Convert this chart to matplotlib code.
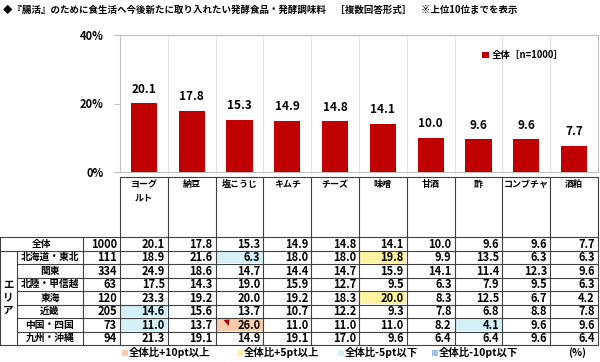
import matplotlib.pyplot as plt
from matplotlib.patches import Rectangle, Polygon

plt.rcParams['font.family'] = ['Noto Sans CJK JP', 'DejaVu Sans']

# data
title = '◆『腸活』のために食生活へ今後新たに取り入れたい発酵食品・発酵調味料　［複数回答形式］　※上位10位までを表示'
categories = ['ヨーグ\nルト', '納豆', '塩こうじ', 'キムチ', 'チーズ', '味噌', '甘酒', '酢', 'コンブチャ', '酒粕']
total = [20.1, 17.8, 15.3, 14.9, 14.8, 14.1, 10.0, 9.6, 9.6, 7.7]
total_n = 1000
regions = ['北海道・東北', '関東', '北陸・甲信越', '東海', '近畿', '中国・四国', '九州・沖縄']
region_n = [111, 334, 63, 120, 205, 73, 94]
region_vals = [
    [18.9, 21.6, 6.3, 18.0, 18.0, 19.8, 9.9, 13.5, 6.3, 6.3],
    [24.9, 18.6, 14.7, 14.4, 14.7, 15.9, 14.1, 11.4, 12.3, 9.6],
    [17.5, 14.3, 19.0, 15.9, 12.7, 9.5, 6.3, 7.9, 9.5, 6.3],
    [23.3, 19.2, 20.0, 19.2, 18.3, 20.0, 8.3, 12.5, 6.7, 4.2],
    [14.6, 15.6, 13.7, 10.7, 12.2, 9.3, 7.8, 6.8, 8.8, 7.8],
    [11.0, 13.7, 26.0, 11.0, 11.0, 11.0, 8.2, 4.1, 9.6, 9.6],
    [21.3, 19.1, 14.9, 19.1, 17.0, 9.6, 6.4, 6.4, 9.6, 6.4],
]
legend_labels = ['全体比+10pt以上', '全体比+5pt以上', '全体比-5pt以下', '全体比-10pt以下']
legend_colors = ['#F8CBAD', '#FFF5A0', '#D5F1F8', '#9DC3E6']

W, H = 600, 362
fig = plt.figure(figsize=(6, 3.62), dpi=100)

# pixel-coordinate overlay for the table and texts
tab = fig.add_axes([0, 0, 1, 1])
tab.set_xlim(0, W)
tab.set_ylim(H, 0)
tab.axis('off')

# chart area (pixels)
L, R, T, B = 120, 598, 35, 172
ax = fig.add_axes([L / W, 1 - B / H, (R - L) / W, (B - T) / H])
x = range(len(total))
ax.bar(x, total, width=0.55, color='#C00000', label='全体［n=1000］', zorder=3)
for i, v in enumerate(total):
    ax.text(i, v + 2.2, f'{v:.1f}', ha='center', va='bottom', fontsize=8.5, fontweight='bold')
ax.set_xlim(-0.5, len(total) - 0.5)
ax.set_ylim(0, 40)
ax.set_yticks([0, 20, 40])
ax.set_yticklabels(['0%', '20%', '40%'], fontsize=8, fontweight='bold')
ax.tick_params(axis='y', length=4, color='#BFBFBF', pad=8)
ax.set_xticks([])
for i in range(1, len(total)):
    ax.axvline(i - 0.5, color='#E3E3E3', lw=0.8, zorder=1)
for s in ax.spines.values():
    s.set_color('#BFBFBF')
    s.set_linewidth(0.8)
ax.legend(loc='upper right', bbox_to_anchor=(0.945, 0.95), frameon=False,
          handlelength=0.7, handleheight=0.7, handletextpad=0.3,
          prop={'weight': 'bold', 'size': 6.8})

fig.text(3 / W, 1 - 10 / H, title, fontsize=6.8, fontweight='bold', va='center', ha='left')

# table geometry
cw = (R - L) / len(categories)
col_x = [L + i * cw for i in range(len(categories) + 1)]
head_top = 177
row_top = 237
rh = 13.5
n_rows = 1 + len(regions)
bottom = row_top + n_rows * rh
lc = '#404040'

# header cells
tab.plot([L, R], [head_top, head_top], color=lc, lw=0.8)
for cx in col_x:
    tab.plot([cx, cx], [head_top, bottom], color=lc, lw=0.8)
for i, c in enumerate(categories):
    tab.text(col_x[i] + cw / 2, head_top + 3, c, ha='center', va='top', fontsize=6.5,
             fontweight='bold', linespacing=1.6)

# row lines
for r in range(n_rows + 1):
    y = row_top + r * rh
    x0 = 0 if r in (0, 1, n_rows) else 17
    tab.plot([x0, R], [y, y], color=lc, lw=0.8)
tab.plot([0, 0], [row_top, bottom], color=lc, lw=0.8)
tab.plot([17, 17], [row_top + rh, bottom], color=lc, lw=0.8)
tab.plot([83, 83], [row_top, bottom], color=lc, lw=0.8)


def delta_color(d):
    if d >= 10:
        return legend_colors[0]
    if d >= 5:
        return legend_colors[1]
    if d <= -10:
        return legend_colors[3]
    if d <= -5:
        return legend_colors[2]
    return None


rows = [('全体', total_n, total)] + list(zip(regions, region_n, region_vals))
for r, (name, n, vals) in enumerate(rows):
    yc = row_top + r * rh + rh / 2
    if r == 0:
        tab.text(41.5, yc, name, ha='center', va='center', fontsize=7, fontweight='bold')
    else:
        tab.text(50, yc, name, ha='center', va='center', fontsize=7, fontweight='bold')
    tab.text(117, yc + 0.5, str(n), ha='right', va='center', fontsize=8, fontweight='bold')
    for i, v in enumerate(vals):
        if r > 0:
            col = delta_color(round(v - total[i], 1))
            if col:
                tab.add_patch(Rectangle((col_x[i] + 0.6, row_top + r * rh + 0.6), cw - 1.2, rh - 1.2,
                                        facecolor=col, edgecolor='none', zorder=0))
        tab.text(col_x[i + 1] - 3, yc + 0.5, f'{v:.1f}', ha='right', va='center', fontsize=8,
                 fontweight='bold')

# comment marker in the 中国・四国 / 塩こうじ cell
ry = row_top + 6 * rh
tab.add_patch(Polygon([(col_x[2] + 8, ry + 2), (col_x[2] + 14, ry + 1.5), (col_x[2] + 13, ry + 8)],
                      closed=True, facecolor='#A00000', edgecolor='none'))

tab.text(8.5, row_top + rh + 3.5 * rh, 'エ\nリ\nア', ha='center', va='center', fontsize=7.5,
         fontweight='bold', linespacing=1.35)

# bottom legend
leg_x = [122, 237, 338, 432]
for lx, lab, col in zip(leg_x, legend_labels, legend_colors):
    tab.add_patch(Rectangle((lx, 350), 5.5, 5.5, facecolor=col, edgecolor='none'))
    tab.text(lx + 7, 353, lab, ha='left', va='center', fontsize=7.5, fontweight='bold')
tab.text(568, 353, '(%)', ha='left', va='center', fontsize=7.5, fontweight='bold')

fig.savefig('out.png', dpi=100)
